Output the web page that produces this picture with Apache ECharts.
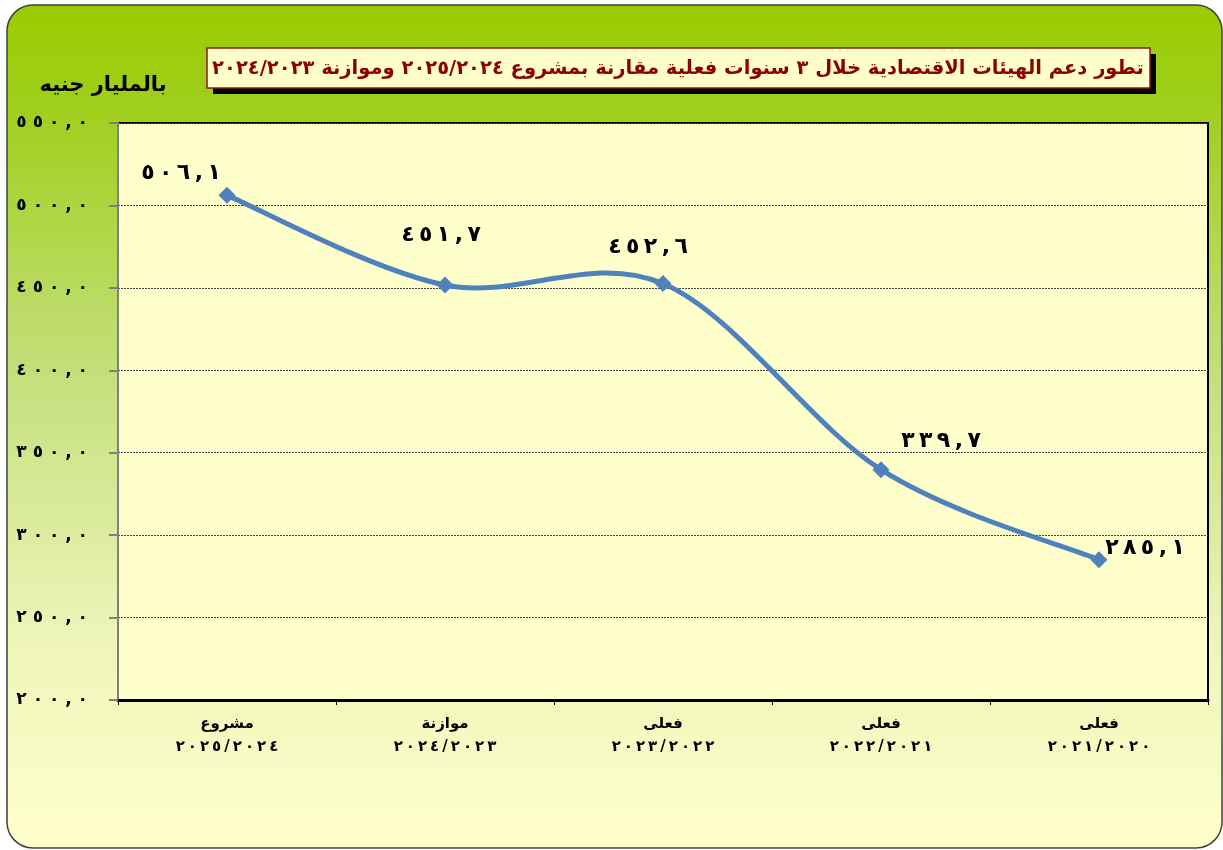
<!DOCTYPE html>
<html>
<head>
<meta charset="utf-8">
<script src="https://cdn.jsdelivr.net/npm/echarts@6/dist/echarts.min.js"></script>
<style>
  html, body { margin: 0; padding: 0; background: #fff; }
  #chart { width: 1223px; height: 850px; }
</style>
</head>
<body>
<div id="chart"></div>
<script>
// البيانات
var catTitles = ['مشروع', 'موازنة', 'فعلى', 'فعلى', 'فعلى'];
var catYears = ['2025/2024', '2024/2023', '2023/2022', '2022/2021', '2021/2020'];
var values = [506.1, 451.7, 452.6, 339.7, 285.1];
var yTicks = { min: 200, max: 550, step: 50 };

var titleText = 'تطور دعم الهيئات الاقتصادية خلال 3 سنوات فعلية مقارنة بمشروع 2025/2024 وموازنة 2024/2023';
var unitText = 'بالمليار جنيه';

// label offsets (around each point)
var labelOffsets = [[-46, 2], [-4, -25], [-15, -12], [60, -4], [46, 13]];

var arDigits = '٠١٢٣٤٥٦٧٨٩';
function toAr(s) {
    return String(s).replace(/[0-9]/g, function (d) { return arDigits[+d]; });
}
// digits spread out like the original font, kept left-to-right with LRO
function spread(s, gap) {
    return '\u202D' + s.split('').join(gap) + '\u202C';
}
function fmt(v, gap) {
    return spread(toAr(v.toFixed(1)).replace('.', ','), gap);
}

var categories = catTitles.map(function (t, i) {
    return t + '\n' + spread(toAr(catYears[i]), '\u2009');
});

var seriesData = values.map(function (v, i) {
    return {
        value: v,
        label: { offset: labelOffsets[i] }
    };
});

var FONT = "'DejaVu Sans', sans-serif";
var LINE_COLOR = '#4f81bd';

// Excel-like smoothed line (Catmull-Rom through the data points)
function renderSmooth(params, api) {
    var i = params.dataIndex;
    var n = values.length;
    if (i >= n - 1) return null;
    function P(k) {
        k = Math.max(0, Math.min(n - 1, k));
        return api.coord([k, values[k]]);
    }
    var p0 = P(i - 1), p1 = P(i), p2 = P(i + 1), p3 = P(i + 2);
    return {
        type: 'bezierCurve',
        shape: {
            x1: p1[0], y1: p1[1],
            x2: p2[0], y2: p2[1],
            cpx1: p1[0] + (p2[0] - p0[0]) / 6,
            cpy1: p1[1] + (p2[1] - p0[1]) / 6,
            cpx2: p2[0] - (p3[0] - p1[0]) / 6,
            cpy2: p2[1] - (p3[1] - p1[1]) / 6
        },
        style: { stroke: LINE_COLOR, lineWidth: 5, fill: null, lineCap: 'round' }
    };
}

var myChart = echarts.init(document.getElementById('chart'));
var option = {
    backgroundColor: '#ffffff',
    animation: false,
    graphic: [
        {
            type: 'rect',
            z: -10,
            shape: { x: 7, y: 5, width: 1215, height: 843, r: 26 },
            style: {
                fill: {
                    type: 'linear', x: 0, y: 0, x2: 0, y2: 1,
                    colorStops: [
                        { offset: 0, color: '#99cc00' },
                        { offset: 0.12, color: '#9fcf1c' },
                        { offset: 0.45, color: '#c5e07f' },
                        { offset: 0.75, color: '#eef5b8' },
                        { offset: 1, color: '#ffffcc' }
                    ]
                },
                stroke: '#404040',
                lineWidth: 1.5
            }
        },
        {
            type: 'rect',
            z: 100,
            shape: { x: 213, y: 54, width: 943, height: 40 },
            style: { fill: '#000000' }
        },
        {
            type: 'rect',
            z: 101,
            shape: { x: 207, y: 48, width: 943, height: 40 },
            style: { fill: '#ffffcc', stroke: '#8b1a1a', lineWidth: 1.5 }
        },
        {
            type: 'text',
            z: 102,
            x: 678,
            y: 69,
            style: {
                text: toAr(titleText),
                fill: '#8b0000',
                font: 'bold 19.5px ' + FONT,
                textAlign: 'center',
                textVerticalAlign: 'middle'
            }
        },
        {
            type: 'text',
            z: 102,
            x: 103,
            y: 86,
            style: {
                text: unitText,
                fill: '#000000',
                font: 'bold 21px ' + FONT,
                textAlign: 'center',
                textVerticalAlign: 'middle'
            }
        }
    ],
    grid: {
        left: 118,
        right: 15,
        top: 123,
        bottom: 150,
        show: true,
        backgroundColor: '#ffffcc',
        borderColor: '#000000',
        borderWidth: 2
    },
    xAxis: {
        type: 'category',
        data: categories,
        boundaryGap: true,
        axisLine: { lineStyle: { color: '#000000', width: 3 } },
        axisTick: { show: true, inside: false, length: 5, lineStyle: { color: '#000000', width: 1 } },
        axisLabel: {
            interval: 0,
            margin: 13,
            color: '#000000',
            fontWeight: 'bold',
            fontSize: 15,
            lineHeight: 23,
            fontFamily: FONT
        }
    },
    yAxis: {
        type: 'value',
        min: yTicks.min,
        max: yTicks.max,
        interval: yTicks.step,
        axisLine: { show: true, lineStyle: { color: '#808080', width: 2 } },
        axisTick: { show: true, length: 9, lineStyle: { color: '#808080', width: 2 } },
        axisLabel: {
            margin: 30,
            color: '#000000',
            fontWeight: 'bold',
            fontSize: 17,
            fontFamily: FONT,
            formatter: function (v) { return fmt(v, ' '); }
        },
        splitLine: {
            show: true,
            lineStyle: { color: '#404040', width: 1, type: [2, 1] }
        }
    },
    series: [
        {
            type: 'custom',
            coordinateSystem: 'cartesian2d',
            z: 2,
            silent: true,
            renderItem: renderSmooth,
            data: values.map(function (v, i) { return [i, v]; })
        },
        {
            type: 'line',
            z: 3,
            data: seriesData,
            symbol: 'diamond',
            symbolSize: 17,
            itemStyle: { color: LINE_COLOR },
            lineStyle: { opacity: 0 },
            label: {
                show: true,
                position: 'top',
                distance: 5,
                color: '#000000',
                fontWeight: 'bold',
                fontSize: 22,
                fontFamily: FONT,
                formatter: function (p) { return fmt(p.value, '\u2009'); }
            }
        }
    ]
};
myChart.setOption(option);
</script>
</body>
</html>
